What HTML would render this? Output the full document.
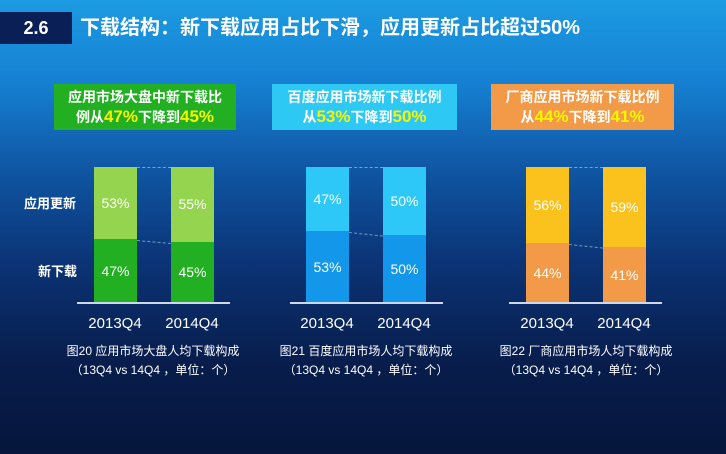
<!DOCTYPE html>
<html><head><meta charset="utf-8"><style>
*{margin:0;padding:0;box-sizing:border-box}
body{width:726px;height:454px;overflow:hidden;position:relative;font-family:"Liberation Sans","Noto Sans CJK SC",sans-serif;
background:linear-gradient(180deg,#1c9be2 0%,#1680d2 18%,#0f55a2 38%,#0b3375 58%,#081d4c 80%,#06163c 100%);}
.a{position:absolute}
.hd{left:0;top:12px;width:72px;height:32px;background:#0a1f55;color:#fff;font-weight:bold;font-size:18px;text-align:center;line-height:32px}
.tt{left:80px;top:12px;height:32px;line-height:32px;color:#fff;font-weight:bold;font-size:20px;white-space:nowrap}
.lb{top:84px;height:46px;color:#fff;font-weight:bold;font-size:14px;text-align:center;line-height:20px;padding-top:3px;white-space:nowrap}
.lb b{color:#f5f500;font-size:17px}
.bar{width:43px;color:#fff;font-size:14px;text-align:center}
.ax{height:2px;background:#d0d8e8;top:302px}
.yr{color:#fff;font-size:15px;top:315px;width:60px;text-align:center}
.cap{color:#fff;font-size:12px;text-align:center;width:200px;line-height:19px;top:342px;white-space:nowrap}
.dl{height:0;border-top:1px dashed rgba(200,210,230,.6)}
</style></head><body>
<div class="a hd">2.6</div>
<div class="a tt">下载结构：新下载应用占比下滑，应用更新占比超过50%</div>

<div class="a lb" style="left:54px;width:182px;background:#22b022">应用市场大盘中新下载比<br>例从<b>47%</b>下降到<b>45%</b></div>
<div class="a lb" style="left:272px;width:185px;background:#2ec8f5">百度应用市场新下载比例<br>从<b>53%</b>下降到<b>50%</b></div>
<div class="a lb" style="left:491px;width:183px;background:#f39a48">厂商应用市场新下载比例<br>从<b>44%</b>下降到<b>41%</b></div>

<div class="a" style="left:24px;top:193px;color:#fff;font-weight:bold;font-size:13px">应用更新</div>
<div class="a" style="left:38px;top:261px;color:#fff;font-weight:bold;font-size:13px">新下载</div>

<div class="a bar" style="left:94px;top:167px;height:72px;background:#94d44e;line-height:72px">53%</div>
<div class="a bar" style="left:94px;top:239px;height:64px;background:#22b022;line-height:64px">47%</div>
<div class="a bar" style="left:171px;top:167px;height:75px;background:#94d44e;line-height:75px">55%</div>
<div class="a bar" style="left:171px;top:242px;height:61px;background:#22b022;line-height:61px">45%</div>
<div class="a dl" style="left:137px;top:167px;width:34px"></div>
<div class="a dl" style="left:137px;top:240px;width:34px;transform:rotate(5deg);transform-origin:left"></div>
<div class="a ax" style="left:77px;width:153px"></div>
<div class="a yr" style="left:85px">2013Q4</div>
<div class="a yr" style="left:162px">2014Q4</div>
<div class="a cap" style="left:53px">图20 应用市场大盘人均下载构成<br>（13Q4 vs 14Q4 ，单位：个）</div>

<div class="a bar" style="left:306px;top:167px;height:64px;background:#2ec8f8;line-height:64px">47%</div>
<div class="a bar" style="left:306px;top:231px;height:72px;background:#1297ea;line-height:72px">53%</div>
<div class="a bar" style="left:383px;top:167px;height:68px;background:#2ec8f8;line-height:68px">50%</div>
<div class="a bar" style="left:383px;top:235px;height:68px;background:#1297ea;line-height:68px">50%</div>
<div class="a dl" style="left:349px;top:167px;width:34px"></div>
<div class="a dl" style="left:349px;top:232px;width:34px;transform:rotate(6deg);transform-origin:left"></div>
<div class="a ax" style="left:290px;width:153px"></div>
<div class="a yr" style="left:297px">2013Q4</div>
<div class="a yr" style="left:374px">2014Q4</div>
<div class="a cap" style="left:266px">图21 百度应用市场人均下载构成<br>（13Q4 vs 14Q4 ，单位：个）</div>

<div class="a bar" style="left:526px;top:167px;height:76px;background:#fbc21e;line-height:76px">56%</div>
<div class="a bar" style="left:526px;top:243px;height:60px;background:#f39a48;line-height:60px">44%</div>
<div class="a bar" style="left:603px;top:167px;height:80px;background:#fbc21e;line-height:80px">59%</div>
<div class="a bar" style="left:603px;top:247px;height:56px;background:#f39a48;line-height:56px">41%</div>
<div class="a dl" style="left:569px;top:167px;width:34px"></div>
<div class="a dl" style="left:569px;top:244px;width:34px;transform:rotate(6deg);transform-origin:left"></div>
<div class="a ax" style="left:509px;width:153px"></div>
<div class="a yr" style="left:517px">2013Q4</div>
<div class="a yr" style="left:594px">2014Q4</div>
<div class="a cap" style="left:486px">图22 厂商应用市场人均下载构成<br>（13Q4 vs 14Q4 ，单位：个）</div>
</body></html>
